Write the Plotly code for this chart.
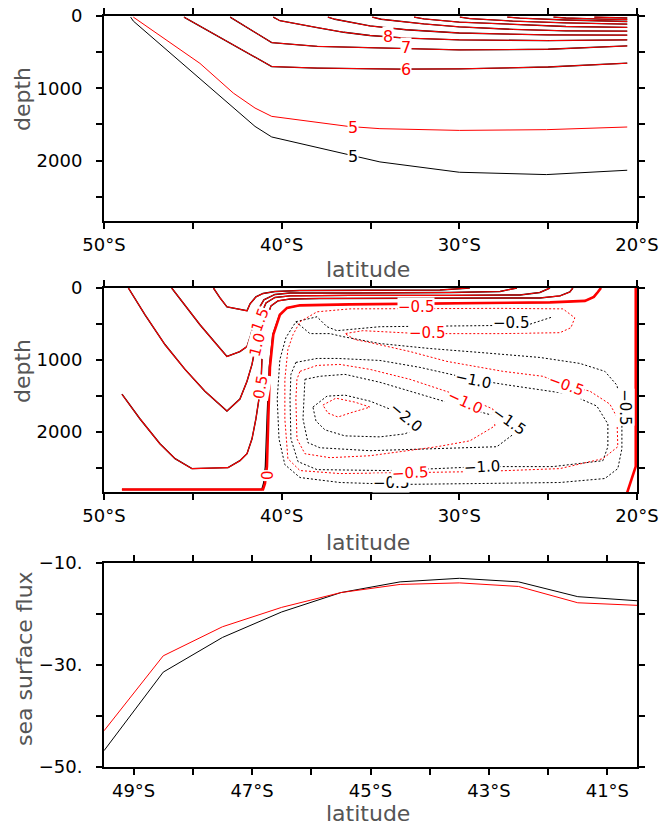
import plotly.graph_objects as go

FONT = "DejaVu Sans, sans-serif"
RED = "#ff0000"
BLK = "#000000"

# ---------------- Panel 1: temperature contours (lat, depth) ----------------
t5k_lat = [-48.50, -48.35, -41.50, -40.56, -36.25, -34.47, -30.00, -25.10, -20.55]
t5k_dep = [15, 70, 1527, 1673, 1917, 2018, 2161, 2193, 2133]
t5r_lat = [-48.35, -44.60, -42.72, -41.50, -40.56, -36.25, -34.47, -30.00, -25.10, -20.55]
t5r_dep = [15, 655, 1066, 1273, 1388, 1527, 1558, 1582, 1572, 1535]
t6_lat = [-45.50, -40.56, -38.00, -33.34, -30.00, -25.00, -20.55]
t6_dep = [15, 699, 720, 735, 731, 705, 653]
t7_lat = [-42.90, -40.56, -38.00, -33.34, -30.00, -25.00, -20.55]
t7_dep = [15, 368, 420, 446, 469, 460, 414]
t8_lat = [-40.47, -40.10, -38.00, -36.50, -35.03, -33.00, -30.00, -25.00, -20.55]
t8_dep = [15, 65, 160, 225, 270, 305, 330, 340, 330]
t9_lat = [-37.40, -37.00, -35.03, -33.00, -30.00, -25.00, -20.55]
t9_dep = [15, 45, 138, 190, 235, 262, 265]
t10_lat = [-34.90, -34.40, -32.00, -30.00, -27.00, -24.00, -20.55]
t10_dep = [15, 45, 110, 150, 185, 205, 210]
t11_lat = [-32.55, -32.00, -30.00, -27.00, -24.00, -20.55]
t11_dep = [15, 40, 85, 120, 145, 158]
t12_lat = [-29.97, -29.40, -27.00, -24.00, -20.55]
t12_dep = [15, 35, 70, 95, 113]
t13_lat = [-27.30, -26.60, -24.00, -22.00, -20.55]
t13_dep = [15, 30, 55, 68, 76]
t14_lat = [-24.70, -24.00, -22.00, -20.55]
t14_dep = [15, 28, 42, 50]
t15_lat = [-22.40, -21.80, -20.55]
t15_dep = [15, 22, 28]

# ---------------- Panel 2: streamfunction contours (lat, depth) ----------------
z0_lat_r = [-48.99, -41.05, -40.94, -40.83, -40.75, -40.66, -40.47, -40.10, -39.70, -38.97, -36.16, -30.53, -24.90, -22.93, -22.43, -22.20, -22.03]
z0_lat_k = [-48.99, -41.12, -41.02, -40.92, -40.82, -40.70, -40.50, -40.12, -39.70, -38.97, -36.16, -30.53, -24.90, -22.93, -22.43, -22.20, -22.03]
z0_dep = [2800, 2800, 2717, 2482, 1793, 1103, 648, 372, 276, 241, 228, 214, 200, 179, 124, 55, 0]
z0e_lat = [-20.07, -20.07, -20.55]
z0e_dep = [0, 2480, 2840]

p05_lat = [-48.99, -47.97, -46.85, -46.00, -45.05, -43.02, -42.35, -41.95, -41.67, -41.45, -41.28, -41.17, -41.11, -41.05, -40.88, -40.60, -40.21, -39.53, -37.85, -33.34, -28.84, -25.47, -24.34, -23.78, -23.61]
p05_dep = [1476, 1820, 2165, 2372, 2510, 2496, 2400, 2303, 2096, 1820, 1544, 1379, 993, 717, 441, 248, 179, 152, 145, 145, 145, 138, 110, 55, 0]
p10_lat = [-48.63, -47.69, -46.57, -45.44, -44.32, -43.08, -42.35, -41.95, -41.67, -41.45, -41.33, -41.17, -40.88, -40.38, -39.53, -36.16, -30.53, -26.59, -25.47, -24.90]
p10_dep = [0, 372, 786, 1131, 1434, 1710, 1544, 1296, 1062, 786, 579, 372, 207, 131, 110, 103, 103, 97, 62, 0]
p15_lat = [-46.19, -45.44, -44.60, -43.75, -43.08, -42.35, -41.95, -41.73, -41.56, -41.33, -41.00, -40.38, -39.53, -36.16, -30.53, -27.71, -26.76]
p15_dep = [0, 234, 510, 758, 952, 883, 814, 648, 469, 303, 165, 90, 69, 69, 62, 48, 0]
p20_lat = [-43.84, -43.47, -43.08, -42.35, -41.95, -41.78, -41.45, -41.05, -40.38, -38.97, -34.47, -31.09, -29.41]
p20_dep = [0, 138, 262, 303, 317, 221, 124, 76, 48, 34, 32, 28, 0]

nk05_lat = [-39.20, -38.41, -37.28, -36.55, -34.47, -31.66, -28.84, -25.47, -23.22, -21.81, -21.13, -20.85, -20.85, -21.08, -21.81, -24.34, -28.84, -33.34, -36.72, -38.97, -39.82, -40.15, -40.25, -40.10, -39.76, -39.20]
nk05_dep = [469, 634, 634, 676, 772, 841, 896, 965, 1048, 1158, 1351, 1682, 2234, 2510, 2648, 2703, 2717, 2730, 2703, 2634, 2455, 2096, 1544, 993, 689, 469]
nk05t_lat = [-39.20, -38.01, -37.45, -36.89, -34.47, -30.53, -26.20, -24.73]
nk05t_dep = [469, 400, 538, 593, 538, 524, 517, 400]
nr05_lat = [-38.97, -38.01, -36.16, -32.22, -27.71, -24.17, -23.50, -23.72, -24.34, -27.71, -32.22, -35.43, -36.44, -35.88, -35.03, -32.78, -30.70, -27.55, -25.30, -24.00, -22.65, -21.53, -21.13, -21.08, -21.92, -24.34, -28.84, -32.61, -36.72, -38.97, -39.65, -39.82, -39.82, -39.65, -39.36, -38.97]
nr05_dep = [469, 331, 290, 283, 283, 290, 414, 552, 621, 634, 634, 593, 634, 717, 758, 883, 1020, 1158, 1227, 1351, 1434, 1613, 1793, 2206, 2372, 2510, 2551, 2565, 2579, 2537, 2372, 1820, 1269, 855, 648, 469]
nk10_lat = [-39.20, -38.01, -36.83, -34.47, -32.22, -29.24, -27.55, -23.78, -22.26, -21.64, -21.64, -21.92, -24.73, -28.73, -31.26, -34.08, -38.01, -39.08, -39.48, -39.53, -39.48, -39.20]
nk10_dep = [1034, 979, 979, 1007, 1103, 1269, 1338, 1475, 1641, 1889, 2206, 2400, 2482, 2482, 2510, 2537, 2524, 2413, 2096, 1544, 1200, 1034]
nr10_lat = [-38.97, -38.01, -36.72, -35.03, -32.78, -30.70, -29.41, -28.11, -28.00, -29.41, -31.26, -33.34, -35.03, -37.28, -38.69, -39.14, -39.20, -39.14, -38.97]
nr10_dep = [1158, 1076, 1062, 1131, 1269, 1434, 1544, 1682, 1917, 2124, 2206, 2275, 2331, 2358, 2303, 2096, 1544, 1269, 1158]
nk15_lat = [-38.69, -37.85, -36.44, -34.47, -32.22, -29.41, -26.99, -26.42, -27.89, -31.26, -35.03, -37.85, -38.52, -38.80, -38.75, -38.69]
nk15_dep = [1269, 1227, 1200, 1310, 1475, 1682, 1848, 1931, 2206, 2234, 2261, 2220, 2150, 1820, 1475, 1269]
nk20_lat = [-38.24, -37.45, -36.44, -35.03, -33.63, -32.67, -32.22, -33.06, -34.47, -36.44, -37.56, -38.07, -38.24]
nk20_dep = [1655, 1503, 1489, 1572, 1710, 1848, 1931, 2027, 2069, 2055, 1972, 1848, 1655]
nr15_lat = [-37.68, -36.95, -35.88, -35.03, -36.16, -36.83, -37.40, -37.68]
nr15_dep = [1627, 1531, 1586, 1655, 1738, 1793, 1738, 1627]

# ---------------- Panel 3: sea surface flux ----------------
ssf_lat = [-49.5, -48.5, -47.5, -46.5, -45.5, -44.5, -43.5, -42.5, -41.5, -40.5]
ssf_black = [-46.8, -31.4, -24.6, -19.6, -15.8, -13.7, -13.0, -13.7, -16.6, -17.4]
ssf_red = [-42.9, -28.2, -22.5, -18.7, -15.8, -14.2, -13.9, -14.6, -17.8, -18.3]

# ---------------- tick labels ----------------
lat_ticks = [-50, -45, -40, -35, -30, -25, -20]
lat_text = ["50°S", "", "40°S", "", "30°S", "", "20°S"]
dep_ticks = [0, 500, 1000, 1500, 2000, 2500]
dep_text = ["0", "", "1000", "", "2000", ""]
lat3_ticks = [-49, -48, -47, -46, -45, -44, -43, -42, -41]
lat3_text = ["49°S", "", "47°S", "", "45°S", "", "43°S", "", "41°S"]
ssf_ticks = [-50, -40, -30, -20, -10]
ssf_text = ["−50.", "", "−30.", "", "−10."]

fig = go.Figure()


def line(x, y, color, n, width=1.0, dash="solid"):
    xa = "x" if n == 1 else "x%d" % n
    ya = "y" if n == 1 else "y%d" % n
    fig.add_trace(go.Scatter(x=x, y=y, mode="lines", xaxis=xa, yaxis=ya,
                             line=dict(color=color, width=width, dash=dash),
                             hoverinfo="skip", showlegend=False))


# panel 1
line(t5k_lat, t5k_dep, BLK, 1)
T_UPPER = [(t6_lat, t6_dep), (t7_lat, t7_dep), (t8_lat, t8_dep), (t9_lat, t9_dep),
           (t10_lat, t10_dep), (t11_lat, t11_dep), (t12_lat, t12_dep),
           (t13_lat, t13_dep), (t14_lat, t14_dep), (t15_lat, t15_dep)]
for la, de in T_UPPER:
    line(la, de, BLK, 1, 1.3)
line(t5r_lat, t5r_dep, RED, 1)
for la, de in T_UPPER:
    line(la, de, RED, 1, 1.0)

# panel 2 black
DOT = "2px,2px"
line(z0_lat_k, z0_dep, BLK, 2, 1.3)
for la, de in [(p05_lat, p05_dep), (p10_lat, p10_dep), (p15_lat, p15_dep), (p20_lat, p20_dep)]:
    line(la, de, BLK, 2, 1.4)
for la, de in [(nk05_lat, nk05_dep), (nk05t_lat, nk05t_dep), (nk10_lat, nk10_dep),
               (nk15_lat, nk15_dep), (nk20_lat, nk20_dep)]:
    line(la, de, BLK, 2, 1.0, DOT)
# panel 2 red
line(z0_lat_r, z0_dep, RED, 2, 2.6)
line(z0e_lat, z0e_dep, RED, 2, 2.6)
for la, de in [(p05_lat, p05_dep), (p10_lat, p10_dep), (p15_lat, p15_dep), (p20_lat, p20_dep)]:
    line(la, de, RED, 2, 1.1)
for la, de in [(nr05_lat, nr05_dep), (nr10_lat, nr10_dep), (nr15_lat, nr15_dep)]:
    line(la, de, RED, 2, 1.0, DOT)

# panel 3
line(ssf_lat, ssf_black, BLK, 3, 1.0)
line(ssf_lat, ssf_red, RED, 3, 1.0)

# contour labels
ann = []


def lab(text, x, y, n, color, angle=0, size=15):
    xa = "x" if n == 1 else "x%d" % n
    ya = "y" if n == 1 else "y%d" % n
    ann.append(dict(text=text, x=x, y=y, xref=xa, yref=ya, showarrow=False,
                    textangle=angle, bgcolor="white", borderpad=0,
                    font=dict(family=FONT, size=size, color=color)))


lab("8", -34.02, 290, 1, RED, size=16)
lab("7", -33.01, 441, 1, RED, size=16)
lab("6", -33.01, 745, 1, RED, size=16)
lab("5", -35.99, 1545, 1, RED, size=16)
lab("5", -35.99, 1945, 1, BLK, size=16)

lab("−0.5", -27.10, 483, 2, BLK)
lab("−1.0", -29.24, 1282, 2, BLK, 12)
lab("−2.0", -33.01, 1793, 2, BLK, 40)
lab("−1.5", -27.21, 1848, 2, BLK, 35)
lab("−0.5", -20.68, 1655, 2, BLK, 90)
lab("−1.0", -28.73, 2490, 2, BLK, -3)
lab("−0.5", -33.85, 2703, 2, BLK)
lab("−0.5", -32.44, 269, 2, RED)
lab("−0.5", -31.82, 621, 2, RED)
lab("−0.5", -24.00, 1351, 2, RED, 20)
lab("−1.0", -29.69, 1586, 2, RED, 25)
lab("−0.5", -32.78, 2565, 2, RED, -3)
lab("0.5", -41.17, 1379, 2, RED, -80)
lab("1.0", -41.39, 786, 2, RED, -75)
lab("1.5", -41.22, 441, 2, RED, -70)
lab("0", -40.83, 2606, 2, RED, 90)

# axis titles
TCOL = "#555555"
for txt, x, y, ang in [("latitude", 367.5, 269, 0), ("latitude", 367.5, 542, 0),
                       ("latitude", 367.5, 813, 0), ("depth", 22, 99, -90),
                       ("depth", 22, 371, -90), ("sea surface flux", 24, 659, -90)]:
    ann.append(dict(text=txt, x=x / 662, y=1 - y / 825, xref="paper", yref="paper",
                    showarrow=False, textangle=ang, xanchor="center", yanchor="middle",
                    font=dict(family=FONT, size=22, color=TCOL)))

ax = dict(showline=True, linecolor="black", linewidth=2, mirror="ticks", ticks="outside",
          ticklen=6, tickwidth=1.5, tickcolor="black", showgrid=False, zeroline=False,
          tickfont=dict(family=FONT, size=18, color="black"), tickmode="array",
          automargin=False)
XD = [104 / 662, 637 / 662]

fig.update_layout(
    width=662, height=825, margin=dict(l=0, r=0, t=0, b=0, autoexpand=False),
    paper_bgcolor="white", plot_bgcolor="white", showlegend=False,
    xaxis=dict(ax, domain=XD, anchor="y", range=[-50, -20], tickvals=lat_ticks, ticktext=lat_text, ticklabelstandoff=0),
    yaxis=dict(ax, domain=[1 - 221 / 825, 1 - 16 / 825], anchor="x", range=[2835, 0], tickvals=dep_ticks, ticktext=dep_text, ticklabelstandoff=10),
    xaxis2=dict(ax, domain=XD, anchor="y2", range=[-50, -20], tickvals=lat_ticks, ticktext=lat_text, ticklabelstandoff=0),
    yaxis2=dict(ax, domain=[1 - 492 / 825, 1 - 288 / 825], anchor="x2", range=[2835, 0], tickvals=dep_ticks, ticktext=dep_text, ticklabelstandoff=10),
    xaxis3=dict(ax, domain=XD, anchor="y3", range=[-49.5, -40.5], tickvals=lat3_ticks, ticktext=lat3_text, ticklabelstandoff=0),
    yaxis3=dict(ax, domain=[1 - 767 / 825, 1 - 563 / 825], anchor="x3", range=[-50, -10], tickvals=ssf_ticks, ticktext=ssf_text, ticklabelstandoff=10),
    annotations=ann,
)

fig.write_html("out.html", post_script="document.body.style.margin='0';document.body.style.padding='0';",
               config={"displayModeBar": False})
